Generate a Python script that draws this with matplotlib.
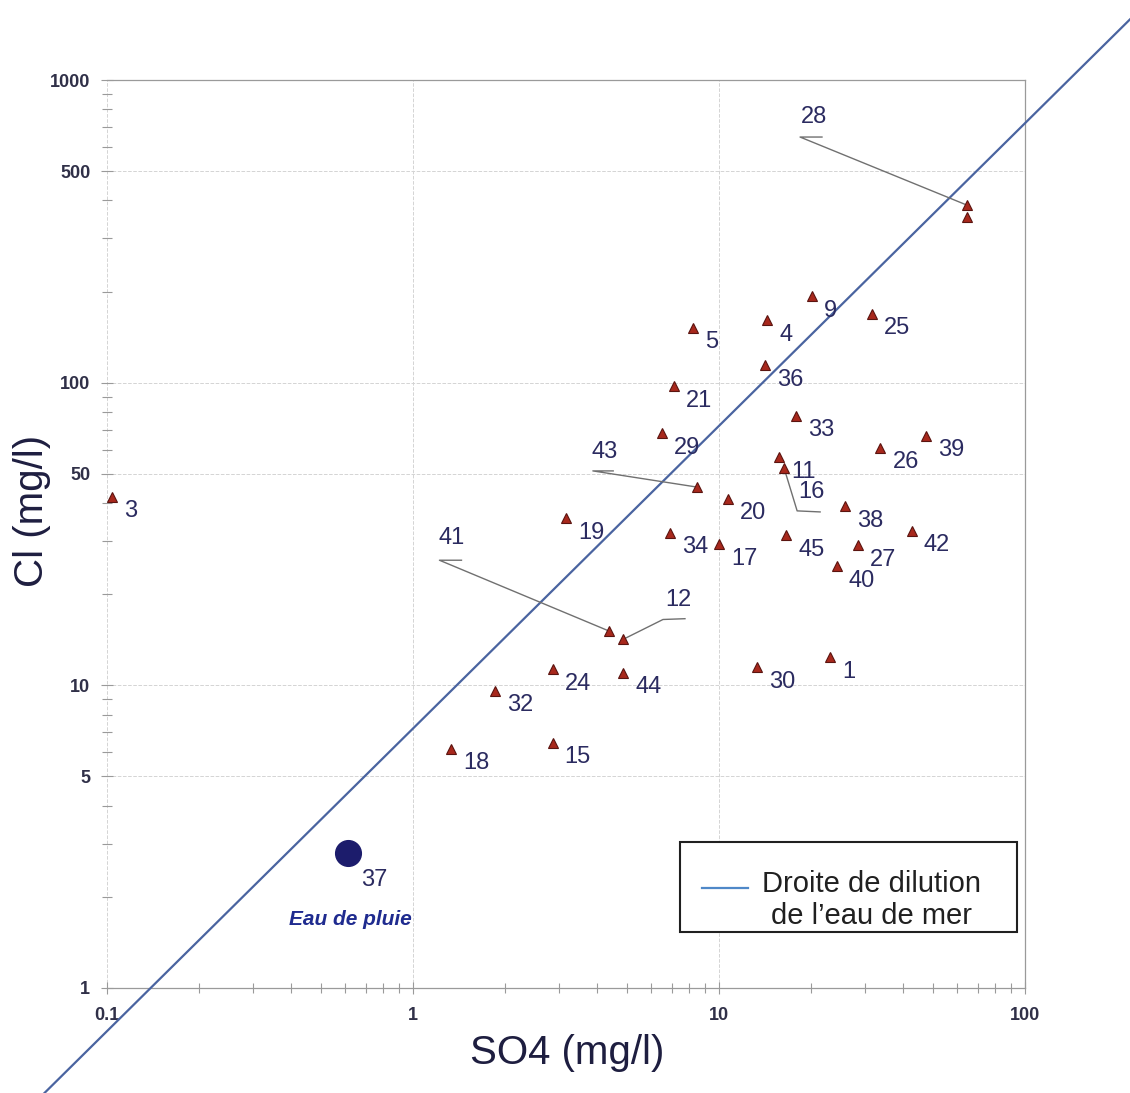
import matplotlib
matplotlib.use('Agg')
import matplotlib.pyplot as plt
from matplotlib.patches import Rectangle
from matplotlib.ticker import FixedLocator, LogLocator, NullFormatter, FuncFormatter

plt.rcParams['font.family'] = ['Liberation Sans', 'DejaVu Sans']

##############################################################################
# data

sample_ids = ['1', '3', '4', '5', '9', '11', '12', '15', '16', '17', '18', '19',
              '20', '21', '24', '25', '26', '27', '28', '', '29', '30', '32',
              '33', '34', '36', '38', '39', '40', '41', '42', '43', '44', '45']
so4 = [23.1, 0.104, 14.4, 8.25, 20.1, 15.7, 4.87, 2.86, 16.3, 10.0, 1.33, 3.16,
       10.7, 7.13, 2.86, 31.5, 33.7, 28.4, 64.6, 64.6, 6.50, 13.3, 1.85,
       17.9, 6.92, 14.1, 25.8, 47.4, 24.3, 4.38, 42.7, 8.45, 4.87, 16.6]
cl = [12.4, 42.0, 161, 152, 193, 56.6, 14.2, 6.46, 52.4, 29.3, 6.18, 35.6,
      41.3, 97.5, 11.3, 169, 60.9, 29.0, 386, 352, 68.2, 11.5, 9.6,
      77.8, 31.9, 114, 39.0, 66.8, 24.7, 15.1, 32.4, 45.2, 11.0, 31.3]

rain_id = '37'
rain_so4 = 0.613
rain_cl = 2.79

seawater_ratio = 7.2          # Cl / SO4 of the dilution line
line_x = [0.04, 400]

x_major = [0.1, 1, 10, 100]
y_major = [1, 5, 10, 50, 100, 500, 1000]

# labels placed away from their point, with a leader line
leader_text = {'28': (20.4, 755), '43': (4.24, 59.0), '41': (1.34, 30.6),
               '12': (7.35, 19.1), '16': (20.1, 43.5)}
leader_path = {'28': [(21.7, 648), (18.4, 648)],
               '43': [(4.51, 51.1), (3.87, 51.1)],
               '41': [(1.44, 25.9), (1.22, 25.9)],
               '12': [(7.74, 16.6), (6.56, 16.5)],
               '16': [(21.4, 37.4), (18.0, 37.7)]}

##############################################################################

label_col = '#2b2b60'
fig = plt.figure(figsize=(11.3, 10.93), dpi=100)
ax = fig.add_axes([0.0947, 0.0961, 0.8124, 0.8307])
ax.set_xscale('log')
ax.set_yscale('log')
ax.set_xlim(0.1, 100)
ax.set_ylim(1, 1000)

# grid
ax.grid(True, which='major', color='#d4d4d4', ls='--', lw=0.7)
ax.set_axisbelow(True)

# dilution line
ax.plot(line_x, [seawater_ratio * v for v in line_x], color='#4a64a0', lw=1.6,
        clip_on=False, zorder=3)

# samples
ax.plot(so4, cl, ls='none', marker='^', ms=7, mfc='#a8281c', mec='#5a1410',
        mew=0.8, zorder=4)
for sid, x, y in zip(sample_ids, so4, cl):
    if not sid:
        continue
    if sid in leader_text:
        pts = leader_path[sid]
        ax.plot([pts[0][0], pts[1][0], x], [pts[0][1], pts[1][1], y],
                color='#707070', lw=1.0, zorder=3)
        tx, ty = leader_text[sid]
        ax.text(tx, ty, sid, fontsize=17, color=label_col, ha='center',
                va='center', zorder=5)
    else:
        ax.annotate(sid, (x, y), xytext=(8.6, -10.5), textcoords='offset points',
                    fontsize=17, color=label_col, ha='left', va='center', zorder=5)

# rain water
ax.plot([rain_so4], [rain_cl], ls='none', marker='o', ms=18.5, mfc='#1c1c6c',
        mec='#1c1c6c', zorder=4)
ax.annotate(rain_id, (rain_so4, rain_cl), xytext=(9.5, -19.5),
            textcoords='offset points', fontsize=17, color=label_col,
            ha='left', va='center')
ax.annotate('Eau de pluie', (rain_so4, rain_cl), xytext=(1.5, -48),
            textcoords='offset points', fontsize=15, color='#1f2b8f',
            fontweight='bold', fontstyle='italic', ha='center', va='center')

# ticks
ax.xaxis.set_major_locator(FixedLocator(x_major))
ax.xaxis.set_minor_locator(LogLocator(base=10, subs=(2, 3, 4, 5, 6, 7, 8, 9)))
ax.yaxis.set_major_locator(FixedLocator(y_major))
ax.yaxis.set_minor_locator(LogLocator(base=10, subs=(2, 3, 4, 6, 7, 8, 9)))
fmt = FuncFormatter(lambda v, p: '{:g}'.format(v))
ax.xaxis.set_major_formatter(fmt)
ax.yaxis.set_major_formatter(fmt)
ax.xaxis.set_minor_formatter(NullFormatter())
ax.yaxis.set_minor_formatter(NullFormatter())
ax.tick_params(which='both', direction='inout', color='#9a9a9a', width=0.8)
ax.tick_params(which='major', length=8)
ax.tick_params(which='minor', length=7)
ax.tick_params(axis='x', pad=10)
ax.tick_params(axis='y', pad=8)
for t in ax.get_xticklabels() + ax.get_yticklabels():
    t.set_fontsize(13)
    t.set_fontweight('bold')
    t.set_color('#303048')

for s in ['top', 'right', 'bottom']:
    ax.spines[s].set_color('#9a9a9a')
    ax.spines[s].set_linewidth(0.9)
ax.spines['left'].set_visible(False)

ax.set_xlabel('SO4 (mg/l)', fontsize=29, color='#1e1e40')
ax.set_ylabel('Cl (mg/l)', fontsize=29, color='#1e1e40')
ax.xaxis.label.set_va('center')
ax.yaxis.label.set_va('center')
ax.xaxis.set_label_coords(0.501, -0.0718)
ax.yaxis.set_label_coords(-0.082, 0.525)

# legend box
ax.add_patch(Rectangle((0.624, 0.0617), 0.367, 0.099, transform=ax.transAxes,
                       facecolor='white', edgecolor='#202020', lw=1.5, zorder=6))
ax.plot([0.648, 0.698], [0.110, 0.110], transform=ax.transAxes,
        color='#4f88c8', lw=1.6, zorder=7)
ax.text(0.833, 0.1145, 'Droite de dilution', transform=ax.transAxes,
        fontsize=21, color='#202020', ha='center', va='center', zorder=7)
ax.text(0.833, 0.0793, 'de l\u2019eau de mer', transform=ax.transAxes,
        fontsize=21, color='#202020', ha='center', va='center', zorder=7)

plt.savefig('out.png', dpi=100)
plt.close()
